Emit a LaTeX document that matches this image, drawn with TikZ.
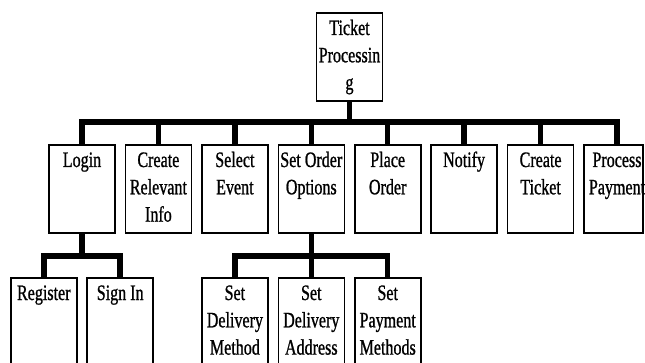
\documentclass[tikz,border=0pt]{standalone}
\usepackage{fontspec}
\setmainfont[FakeStretch=0.73,FakeBold=0.9]{Liberation Serif}
% box caption: lines stacked from the top of a 66 x 88 box
\newcommand{\boxlabel}[1]{\parbox[c][88pt][t]{66pt}{\centering\fontsize{22pt}{27.3pt}\selectfont\rule{0pt}{22pt}#1}}
\begin{document}
\begin{tikzpicture}[x=1pt,y=-1pt,
  tbox/.style={draw, line width=1.6pt, inner sep=0pt, outer sep=0pt, anchor=north},
  link/.style={line width=5.5pt, line join=miter}]
\useasboundingbox (0,0) rectangle (645,363);

% root
\node[tbox] (root) at (349.5,13) {\boxlabel{Ticket\\Processin\\g}};

% first level
\node[tbox] (login)  at (82,145)    {\boxlabel{Login}};
\node[tbox] (info)   at (158.4,145) {\boxlabel{Create\\Relevant\\Info}};
\node[tbox] (event)  at (234.9,145) {\boxlabel{Select\\Event}};
\node[tbox] (opts)   at (311.3,145) {\boxlabel{Set Order\\Options}};
\node[tbox] (place)  at (387.7,145) {\boxlabel{Place\\Order}};
\node[tbox] (notify) at (464.1,145) {\boxlabel{Notify}};
\node[tbox] (ticket) at (540.6,145) {\boxlabel{Create\\Ticket}};
\node[tbox, anchor=north west] (pay) at (584,145)
  {\makebox[59pt][l]{\boxlabel{Process\\Payment}}};
\coordinate (paytop) at ([xshift=33pt]pay.north west);

% second level
\node[tbox] (reg)    at (43.8,278)  {\boxlabel{Register}};
\node[tbox] (signin) at (120.2,278) {\boxlabel{Sign In}};
\node[tbox] (dmeth)  at (234.9,278) {\boxlabel{Set\\Delivery\\Method}};
\node[tbox] (daddr)  at (311.3,278) {\boxlabel{Set\\Delivery\\Address}};
\node[tbox] (pmeth)  at (387.7,278) {\boxlabel{Set\\Payment\\Methods}};

% connectors
\coordinate (bar) at (349.5,122);
\foreach \c in {login,info,event,opts,place,notify,ticket}
  \draw[link] (root.south) -- (root.south |- bar) -| (\c.north);
\draw[link] (root.south) -- (root.south |- bar) -| (paytop);

\coordinate (lbar) at (82,256);
\foreach \c in {reg,signin}
  \draw[link] (login.south) -- (login.south |- lbar) -| (\c.north);

\coordinate (obar) at (311.3,256);
\foreach \c in {dmeth,daddr,pmeth}
  \draw[link] (opts.south) -- (opts.south |- obar) -| (\c.north);
\end{tikzpicture}
\end{document}
